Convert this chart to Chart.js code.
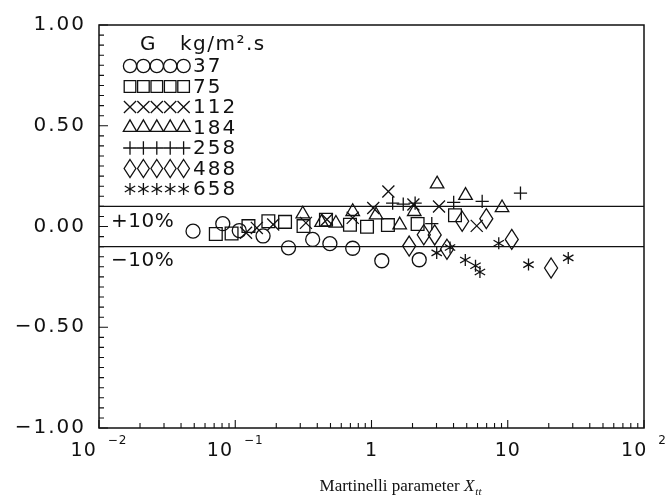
<!DOCTYPE html>
<html>
<head>
<meta charset="utf-8">
<script src="https://cdn.jsdelivr.net/npm/chart.js@4.4.1/dist/chart.umd.min.js"></script>
<style>
  html, body { margin: 0; padding: 0; background: #fff; }
  #wrap { width: 668px; height: 499px; }
</style>
</head>
<body>
<div id="wrap"><canvas id="chart" width="668" height="499"></canvas></div>
<script>
// mass flux G (kg/m2.s) for each series
const massFlux = ['37', '75', '112', '184', '258', '488', '658'];

// Martinelli parameter (x) and relative deviation (y)
const x37 = [0.049, 0.081, 0.107, 0.160, 0.246, 0.370, 0.495, 0.728, 1.19, 2.24];
const y37 = [-0.023, 0.014, -0.020, -0.047, -0.106, -0.064, -0.085, -0.108, -0.170, -0.165];

const x75 = [0.072, 0.094, 0.125, 0.175, 0.232, 0.317, 0.463, 0.695, 0.927, 1.32, 2.18, 4.10];
const y75 = [-0.037, -0.035, 0.002, 0.026, 0.023, 0.002, 0.034, 0.009, -0.001, 0.007, 0.012, 0.056];

const x112 = [0.120, 0.144, 0.190, 0.330, 0.471, 0.728, 1.03, 1.33, 2.03, 3.13, 5.92];
const y112 = [-0.031, -0.007, 0.010, 0.018, 0.035, 0.043, 0.092, 0.174, 0.109, 0.099, 0.003];

const x184 = [0.313, 0.430, 0.548, 0.728, 1.08, 1.61, 2.06, 3.03, 4.90, 9.08];
const y184 = [0.062, 0.020, 0.016, 0.074, 0.057, 0.008, 0.074, 0.211, 0.154, 0.093];

const x258 = [1.43, 1.71, 2.09, 2.77, 4.01, 6.49, 12.4];
const y258 = [0.116, 0.111, 0.116, 0.014, 0.120, 0.125, 0.166];

const x488 = [1.89, 2.42, 2.91, 3.58, 4.63, 6.96, 10.7, 20.8];
const y488 = [-0.097, -0.041, -0.042, -0.113, 0.026, 0.039, -0.064, -0.206];

const x658 = [3.01, 3.77, 4.88, 5.80, 6.25, 8.59, 14.2, 27.8];
const y658 = [-0.131, -0.104, -0.166, -0.195, -0.226, -0.083, -0.189, -0.156];

// +/-10% band
const bandX = [0.01, 100];
const bandUpper = [0.1, 0.1];
const bandLower = [-0.1, -0.1];

// x axis tick labels (decades)
const xTickValues = [0.01, 0.1, 1, 10, 100];
const xTickBase = ['10', '10', '1', '10', '10'];
const xTickExp = ['\u22122', '\u22121', '', '', '2'];

const INK = '#111';
const SANS = '"DejaVu Sans"';
const pts = (xs, ys) => xs.map((x, i) => ({ x: x, y: ys[i] }));

// shapes chart.js has no point style for
function drawMark(ctx, kind, x, y, s) {
    ctx.beginPath();
    if (kind === 'diamond') {
        const w = s * 0.65, h = s;
        ctx.moveTo(x, y - h);
        ctx.lineTo(x + w, y);
        ctx.lineTo(x, y + h);
        ctx.lineTo(x - w, y);
        ctx.closePath();
    } else {
        [90, 30, 150].forEach(function(a) {
            const dx = Math.cos(a * Math.PI / 180) * s, dy = Math.sin(a * Math.PI / 180) * s;
            ctx.moveTo(x - dx, y - dy);
            ctx.lineTo(x + dx, y + dy);
        });
    }
    ctx.stroke();
}

function series(label, xs, ys, style, radius, legendRadius, mark) {
    return {
        label: label,
        data: pts(xs, ys),
        pointStyle: style,
        pointRadius: radius,
        pointHoverRadius: radius,
        pointBorderColor: mark ? 'rgba(0,0,0,0)' : INK,
        pointBackgroundColor: 'rgba(0,0,0,0)',
        pointBorderWidth: 1.3,
        showLine: false,
        legendRadius: legendRadius,
        mark: mark
    };
}

function band(ys) {
    return {
        type: 'line',
        label: '',
        data: pts(bandX, ys),
        borderColor: INK,
        borderWidth: 1.4,
        pointRadius: 0,
        fill: false,
        isBand: true
    };
}

const datasets = [
    series(massFlux[0], x37, y37, 'circle', 7, 6.6),
    series(massFlux[1], x75, y75, 'rect', 9, 8.2),
    series(massFlux[2], x112, y112, 'crossRot', 8.5, 8.6),
    series(massFlux[3], x184, y184, 'triangle', 7.8, 7.7),
    series(massFlux[4], x258, y258, 'cross', 6.6, 6.8),
    series(massFlux[5], x488, y488, 'circle', 10, 9, 'diamond'),
    series(massFlux[6], x658, y658, 'circle', 6, 6, 'asterisk'),
    band(bandUpper),
    band(bandLower)
];

const paper = {
    id: 'paper',
    beforeDraw(chart) {
        chart.ctx.letterSpacing = '2px';
    },
    afterDatasetsDraw(chart) {
        const ctx = chart.ctx;
        ctx.save();
        ctx.strokeStyle = INK;
        ctx.lineWidth = 1.3;
        chart.data.datasets.forEach(function(ds, i) {
            if (!ds.mark) return;
            chart.getDatasetMeta(i).data.forEach(function(el) {
                drawMark(ctx, ds.mark, el.x, el.y, ds.pointRadius);
            });
        });
        ctx.restore();
    },
    afterDraw(chart) {
        const ctx = chart.ctx;
        const a = chart.chartArea;
        const xs = chart.scales.x, ys = chart.scales.y;
        ctx.save();
        ctx.strokeStyle = INK;
        ctx.fillStyle = INK;

        // frame
        ctx.lineWidth = 1.5;
        ctx.strokeRect(a.left, a.top, a.right - a.left, a.bottom - a.top);

        // inward ticks
        ctx.lineWidth = 1.1;
        ctx.beginPath();
        for (let e = -2; e <= 2; e++) {
            for (let s = 1; s <= 9; s++) {
                if (e === 2 && s > 1) break;
                const v = s * Math.pow(10, e);
                const px = xs.getPixelForValue(v);
                const len = s === 1 ? 8 : 5;
                ctx.moveTo(px, a.bottom);
                ctx.lineTo(px, a.bottom - len);
            }
        }
        ys.ticks.forEach(function(t) {
            const py = ys.getPixelForValue(t.value);
            const major = Math.round(t.value * 20) % 10 === 0;
            ctx.moveTo(a.left, py);
            ctx.lineTo(a.left + (major ? 9 : 5), py);
        });
        ctx.stroke();

        // x tick labels with exponents
        ctx.textAlign = 'left';
        ctx.textBaseline = 'alphabetic';
        ctx.letterSpacing = '1px';
        xTickValues.forEach(function(v, i) {
            const px = xs.getPixelForValue(v);
            ctx.font = '19px ' + SANS;
            const wb = ctx.measureText(xTickBase[i]).width;
            ctx.font = '12px ' + SANS;
            const we = xTickExp[i] ? ctx.measureText(xTickExp[i]).width : 0;
            const gap = we ? 11 : 0;
            const start = px - (wb + gap + we) / 2;
            ctx.font = '19px ' + SANS;
            ctx.fillText(xTickBase[i], start, a.bottom + 28);
            if (we) {
                ctx.font = '12px ' + SANS;
                ctx.fillText(xTickExp[i], start + wb + gap, a.bottom + 16);
            }
        });

        // axis title
        ctx.letterSpacing = '0px';
        const t1 = 'Martinelli parameter ';
        ctx.font = '17px "Liberation Serif"';
        const w1 = ctx.measureText(t1).width;
        ctx.font = 'italic 17px "Liberation Serif"';
        const w2 = ctx.measureText('X').width;
        ctx.font = 'italic 11px "Liberation Serif"';
        const w3 = ctx.measureText('tt').width;
        let tx = 400 - (w1 + w2 + w3) / 2;
        const ty = 491;
        ctx.font = '17px "Liberation Serif"';
        ctx.fillText(t1, tx, ty);
        tx += w1;
        ctx.font = 'italic 17px "Liberation Serif"';
        ctx.fillText('X', tx, ty);
        tx += w2 + 1;
        ctx.font = 'italic 11px "Liberation Serif"';
        ctx.fillText('tt', tx, ty + 4);

        // band labels
        ctx.letterSpacing = '0.5px';
        ctx.font = '20px ' + SANS;
        ctx.textBaseline = 'middle';
        ctx.fillText('+10%', a.left + 12, ys.getPixelForValue(0.1) + 15);
        ctx.fillText('\u221210%', a.left + 12, ys.getPixelForValue(-0.1) + 14);

        // legend block
        ctx.letterSpacing = '1.5px';
        ctx.font = '20px ' + SANS;
        ctx.fillText('G', a.left + 41, a.top + 20);
        ctx.fillText('kg/m\u00b2.s', a.left + 81, a.top + 20);
        ctx.letterSpacing = '2px';
        chart.data.datasets.forEach(function(ds, i) {
            if (ds.isBand) return;
            const yy = a.top + 41 + i * 20.5;
            ctx.fillStyle = 'rgba(0,0,0,0)';
            ctx.strokeStyle = INK;
            ctx.lineWidth = 1.3;
            for (let k = 0; k < 5; k++) {
                const cx = a.left + 31 + k * 13.4;
                if (ds.mark) {
                    drawMark(ctx, ds.mark, cx, yy, ds.legendRadius);
                } else {
                    Chart.helpers.drawPoint(ctx, {
                        pointStyle: ds.pointStyle,
                        radius: ds.legendRadius,
                        rotation: 0,
                        borderWidth: 1.3
                    }, cx, yy);
                }
            }
            ctx.fillStyle = INK;
            ctx.font = '20px ' + SANS;
            ctx.fillText(ds.label, a.left + 94, yy + 1);
        });
        ctx.restore();
    }
};

new Chart(document.getElementById('chart'), {
    type: 'scatter',
    data: { datasets: datasets },
    options: {
        responsive: false,
        animation: false,
        events: [],
        layout: { padding: { top: 21, right: 24, left: 0, bottom: 0 } },
        plugins: { legend: { display: false }, tooltip: { enabled: false } },
        scales: {
            x: {
                type: 'logarithmic',
                min: 0.01,
                max: 100,
                grid: { display: false, drawTicks: false },
                border: { display: false },
                ticks: { display: false },
                afterFit: function(s) { s.height = 71; }
            },
            y: {
                min: -1,
                max: 1,
                grid: { display: false, drawTicks: false },
                border: { display: false },
                ticks: {
                    stepSize: 0.05,
                    maxTicksLimit: 100,
                    autoSkip: false,
                    padding: 13,
                    color: INK,
                    font: { family: 'DejaVu Sans', size: 20 },
                    callback: function(v) {
                        const h = Math.round(v * 20);
                        if (h % 10 !== 0) return '';
                        const val = h / 20;
                        return (val < 0 ? '\u2212' : '') + Math.abs(val).toFixed(2);
                    }
                },
                afterFit: function(s) { s.width = 99; }
            }
        }
    },
    plugins: [paper]
});
</script>
</body>
</html>
